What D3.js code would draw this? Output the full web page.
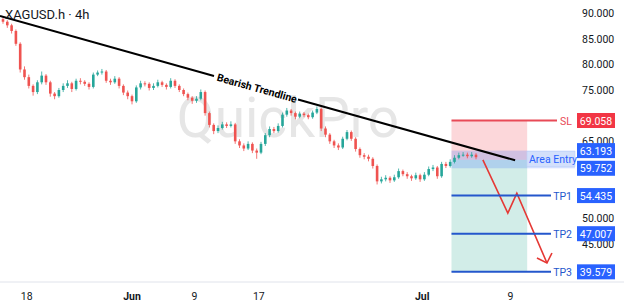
<!DOCTYPE html>
<html>
<head>
<meta charset="utf-8">
<script src="https://cdn.jsdelivr.net/npm/d3@7"></script>
<style>
  html, body { margin: 0; padding: 0; background: #fff; }
  svg { display: block; font-family: Roboto, "Noto Sans", sans-serif; }
</style>
</head>
<body>
<svg id="chart" width="624" height="307"></svg>
<script>
'use strict';

// 4h closes (one candle ~ 4.3px)
var closes = [88.3,87.6,86.5,84.0,79.0,77.5,75.8,74.6,76.5,77.8,
  76.5,74.3,73.8,75.0,75.8,76.3,75.2,76.8,76.6,76.2,
  75.6,78.0,78.4,78.6,76.8,76.5,77.2,75.8,74.5,73.8,
  72.8,75.5,76.3,76.2,75.4,75.8,76.5,76.0,75.6,76.8,
  75.8,75.0,74.2,73.5,72.9,73.3,74.6,70.5,68.2,67.0,
  67.6,68.3,68.0,68.3,65.0,64.2,63.6,64.5,63.2,62.8,
  64.5,66.2,67.4,67.0,68.0,70.2,71.0,70.5,69.8,70.4,
  70.1,69.7,70.6,71.3,67.5,66.3,65.0,64.2,63.8,65.5,
  66.8,65.5,63.5,62.3,62.0,61.6,60.2,57.2,57.6,57.9,
  57.4,58.0,59.2,58.6,58.2,57.8,58.4,57.6,58.5,59.6,
  59.9,58.2,60.6,60.2,61.0,61.8,62.3,62.4,62.1,62.4,
  61.9];
var firstOpen = 88.8;
var highs = [89.2,88.6,87.9,86.8,84.3,79.6,78.0,76.1,76.9,78.6,
  78.1,76.8,74.6,75.4,76.3,76.9,76.6,77.2,77.3,76.9,
  76.5,78.4,78.8,79.1,78.9,77.2,77.7,77.5,76.1,74.9,
  74.1,75.9,76.8,76.7,76.5,76.3,77.0,76.8,76.3,77.3,
  77.1,76.1,75.3,74.5,73.8,73.8,75.1,74.9,70.8,68.5,
  68.1,68.8,68.7,68.9,68.6,65.4,64.6,65.0,64.8,63.6,
  64.9,66.6,67.9,67.8,68.5,70.6,71.5,71.3,70.8,70.8,
  70.7,70.4,71.0,71.8,71.6,67.9,66.6,65.3,64.6,65.9,
  67.2,67.1,65.8,63.8,62.7,62.4,61.9,60.5,58.1,58.4,
  58.2,58.5,59.7,59.5,59.0,58.5,58.9,58.7,59.0,60.1,
  60.4,60.2,61.0,61.0,61.5,62.3,62.8,62.9,62.8,62.9,
  62.7];
var lows = [87.9,87.1,86.0,83.6,78.4,77.0,75.3,73.9,74.2,76.1,
  76.0,73.7,73.2,73.5,74.6,75.4,74.6,74.9,76.1,75.8,
  75.1,75.3,77.7,78.0,76.4,76.0,76.2,75.3,74.0,73.2,
  72.2,72.5,75.1,75.7,74.9,75.0,75.5,75.6,75.1,75.3,
  75.4,74.6,73.8,73.0,72.3,72.5,73.0,70.0,67.7,66.4,
  66.6,67.3,67.6,67.7,64.5,63.7,63.1,63.3,62.7,61.6,
  62.5,64.1,65.8,66.6,66.7,67.7,69.8,70.0,69.3,69.5,
  69.7,69.3,69.4,70.3,67.0,65.8,64.5,63.7,63.3,63.5,
  65.2,65.1,63.0,61.8,61.5,61.1,59.7,56.6,56.8,57.2,
  56.9,57.1,57.7,58.2,57.7,57.3,57.5,57.1,57.3,58.2,
  59.2,57.7,57.9,59.8,59.9,60.7,61.5,62.0,61.7,61.8,
  61.5];

// ticks that the price tags leave visible
var priceTicks = [45, 50, 65, 75, 80, 85, 90];
var dateTicks = [5.5, 30, 44.5, 59.5, 97.5, 118];
var dateLabels = ['18', 'Jun', '9', '17', 'Jul', '9'];
var dateBold = [false, true, false, false, true, false];

// trade setup
var stopLoss = 69.058;
var entryTop = 63.193, entryBottom = 59.752, entryPrice = 61.4;
var targets = [54.435, 47.007, 39.579];
var targetNames = ['TP1', 'TP2', 'TP3'];
var boxStart = 104.3, boxEnd = 121.9;

// trendline ends and projected path (bar index, price)
var trendIdx = [-0.7, 119.1], trendPx = [89.4, 61.3];
var pathIdx = [111.6, 117.4, 119.5, 126.5];
var pathPx = [61.4, 51.0, 54.9, 41.3];

var svg = d3.select('#chart');
var x = d3.scaleLinear().domain([0, 125]).range([3, 540.5]);
var y = d3.scaleLinear().domain([45, 90]).range([244, 13]);

var bars = closes.map(function (c, i) {
  return { i: i, o: i === 0 ? firstOpen : closes[i - 1], c: c, h: highs[i], l: lows[i] };
});

// watermark
svg.append('text')
  .attr('x', 288).attr('y', 137)
  .attr('text-anchor', 'middle')
  .attr('font-size', 55)
  .attr('fill', '#e6e6e6')
  .text('QuickPro');

// position boxes
var x0 = x(boxStart), x1 = x(boxEnd);
svg.append('rect')
  .attr('x', x0).attr('y', y(stopLoss))
  .attr('width', x1 - x0).attr('height', y(entryPrice) - y(stopLoss))
  .attr('fill', 'rgba(242,54,69,0.2)');
svg.append('rect')
  .attr('x', x0).attr('y', y(entryPrice))
  .attr('width', x1 - x0).attr('height', y(targets[2]) - y(entryPrice))
  .attr('fill', 'rgba(8,153,129,0.18)');

// entry zone band
svg.append('rect')
  .attr('x', x0).attr('y', y(entryTop))
  .attr('width', 575 - x0).attr('height', y(entryBottom) - y(entryTop))
  .attr('fill', 'rgba(41,98,255,0.2)');

// candles
var g = svg.append('g');
g.selectAll('line.wick').data(bars).enter().append('line')
  .attr('class', 'wick')
  .attr('x1', function (d) { return x(d.i); })
  .attr('x2', function (d) { return x(d.i); })
  .attr('y1', function (d) { return y(d.h); })
  .attr('y2', function (d) { return y(d.l); })
  .attr('stroke', function (d) { return d.c >= d.o ? '#26a69a' : '#ef5350'; })
  .attr('stroke-width', 0.8);
g.selectAll('rect.body').data(bars).enter().append('rect')
  .attr('class', 'body')
  .attr('x', function (d) { return x(d.i) - 1.3; })
  .attr('width', 2.6)
  .attr('y', function (d) { return y(Math.max(d.o, d.c)); })
  .attr('height', function (d) { return Math.max(1, Math.abs(y(d.o) - y(d.c))); })
  .attr('fill', function (d) { return d.c >= d.o ? '#26a69a' : '#ef5350'; });

// bearish trendline, broken where its label sits
var tx0 = x(trendIdx[0]), ty0 = y(trendPx[0]);
var tx1 = x(trendIdx[1]), ty1 = y(trendPx[1]);
var slope = (ty1 - ty0) / (tx1 - tx0);
var gapA = 214, gapB = 298;
svg.append('line')
  .attr('x1', tx0).attr('y1', ty0)
  .attr('x2', gapA).attr('y2', ty0 + slope * (gapA - tx0))
  .attr('stroke', '#000').attr('stroke-width', 2);
svg.append('line')
  .attr('x1', gapB).attr('y1', ty0 + slope * (gapB - tx0))
  .attr('x2', tx1).attr('y2', ty1)
  .attr('stroke', '#000').attr('stroke-width', 2);
var midX = (gapA + gapB) / 2, midY = ty0 + slope * (midX - tx0);
svg.append('text')
  .attr('transform', 'translate(' + midX + ',' + (midY + 4) + ') rotate(' + (Math.atan(slope) * 180 / Math.PI) + ')')
  .attr('text-anchor', 'middle')
  .attr('font-size', 10.5)
  .attr('font-weight', 'bold')
  .attr('fill', '#000')
  .text('Bearish Trendline');

// projected path arrow
var pts = pathIdx.map(function (d, i) { return [x(d), y(pathPx[i])]; });
svg.append('path')
  .attr('d', d3.line()(pts))
  .attr('fill', 'none')
  .attr('stroke', '#e53935')
  .attr('stroke-width', 1.6);
var tip = pts[pts.length - 1];
svg.append('path')
  .attr('d', 'M' + (tip[0] - 10) + ',' + (tip[1] - 5) + 'L' + tip[0] + ',' + tip[1] + 'L' + (tip[0] + 5) + ',' + (tip[1] - 10))
  .attr('fill', 'none')
  .attr('stroke', '#e53935')
  .attr('stroke-width', 1.6);

// bottom axis
svg.append('line')
  .attr('x1', 0).attr('x2', 624).attr('y1', 282).attr('y2', 282)
  .attr('stroke', '#e0e3eb');
svg.selectAll('text.date').data(dateTicks).enter().append('text')
  .attr('class', 'date')
  .attr('x', function (d) { return x(d); })
  .attr('y', 300)
  .attr('text-anchor', 'middle')
  .attr('font-size', 10.5)
  .attr('font-weight', function (d, i) { return dateBold[i] ? 'bold' : 'normal'; })
  .attr('fill', '#131722')
  .text(function (d, i) { return dateLabels[i]; });

// right price axis
var axis = svg.append('g')
  .attr('transform', 'translate(578,0)')
  .call(d3.axisRight(y).tickValues(priceTicks).tickFormat(d3.format('.3f')).tickSize(0).tickPadding(4));
axis.select('.domain').remove();
axis.selectAll('text').attr('font-size', 10.5).attr('fill', '#131722').attr('font-family', 'Roboto, sans-serif');

// level lines with tags
function level(price, name, color, lineEnd) {
  var yy = y(price);
  svg.append('line')
    .attr('x1', x0).attr('x2', lineEnd).attr('y1', yy).attr('y2', yy)
    .attr('stroke', color).attr('stroke-width', 2);
  svg.append('text')
    .attr('x', 572).attr('y', yy + 4)
    .attr('text-anchor', 'end')
    .attr('font-size', 10.5)
    .attr('fill', color)
    .text(name);
}
level(stopLoss, 'SL', '#e84a57', 557);
targets.forEach(function (t, i) { level(t, targetNames[i], '#2457cc', 551); });

// entry label
svg.append('rect')
  .attr('x', 527).attr('y', y(entryTop) + 1)
  .attr('width', 48).attr('height', y(entryBottom) - y(entryTop) - 3)
  .attr('fill', '#d3e0fb').attr('stroke', '#bdd0f7').attr('stroke-width', 0.6);
svg.append('text')
  .attr('x', 529).attr('y', (y(entryTop) + y(entryBottom)) / 2 + 3.5)
  .attr('font-size', 10.5)
  .attr('fill', '#2962ff')
  .text('Area Entry');

// price tags
function tag(price, color) {
  var yy = y(price);
  svg.append('rect')
    .attr('x', 577).attr('y', yy - 7.5)
    .attr('width', 38).attr('height', 15)
    .attr('fill', color);
  svg.append('text')
    .attr('x', 596).attr('y', yy + 4)
    .attr('text-anchor', 'middle')
    .attr('font-size', 10.5)
    .attr('fill', '#fff')
    .text(d3.format('.3f')(price));
}
tag(stopLoss, '#f23645');
tag(entryTop, '#2962ff');
tag(entryBottom, '#2962ff');
targets.forEach(function (t) { tag(t, '#2962ff'); });

// title
svg.append('text')
  .attr('x', 5).attr('y', 19)
  .attr('font-size', 13)
  .attr('fill', '#131722')
  .text('XAGUSD.h · 4h');
</script>
</body>
</html>
